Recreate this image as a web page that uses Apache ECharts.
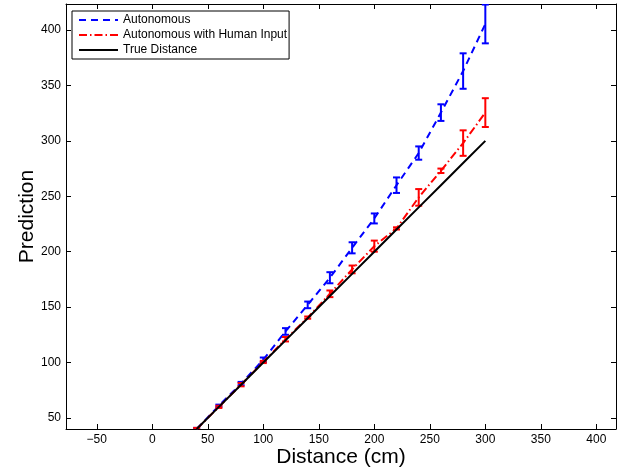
<!DOCTYPE html>
<html>
<head>
<meta charset="utf-8">
<script src="https://cdn.jsdelivr.net/npm/echarts@6/dist/echarts.min.js"></script>
<style>
html,body{margin:0;padding:0;background:#fff;}
#chart{width:625px;height:470px;}
</style>
</head>
<body>
<div id="chart"></div>
<script>
// Data
const distances = [40, 60, 80, 100, 120, 140, 160, 180, 200, 220, 240, 260, 280, 300];
const autoMean  = [40, 61, 81, 102.5, 128, 152, 176.5, 203.5, 230, 260, 289, 325.5, 363, 405.5];
const autoErr   = [1, 1, 1.5, 2, 3, 3, 5, 5, 4.5, 7, 6, 7.5, 16, 17.5];
const humanMean = [40, 60, 80, 100.5, 121, 140.5, 162, 184, 205, 221, 249, 273, 298, 325.5];
const humanErr  = [1, 1, 1.5, 1, 2, 1, 3, 3.5, 5, 1, 7.5, 2, 11.5, 13];
const trueDist  = [40, 60, 80, 100, 120, 140, 160, 180, 200, 220, 240, 260, 280, 300];
const xTicks = [-50, 0, 50, 100, 150, 200, 250, 300, 350, 400];
const yTicks = [50, 100, 150, 200, 250, 300, 350, 400];
const seriesNames = ['Autonomous', 'Autonomous with Human Input', 'True Distance'];

const X_MIN = -77.7, X_MAX = 417.7, Y_MIN = 40, Y_MAX = 423.5;
const FONT = 'Liberation Sans, Arial, Helvetica, sans-serif';

function pairs(xs, ys) { return xs.map((x, i) => [x, ys[i]]); }
function errData(xs, m, e) { return xs.map((x, i) => [x, m[i] - e[i], m[i] + e[i]]); }

function errRender(color) {
  return function (params, api) {
    const x = api.value(0), lo = api.value(1), hi = api.value(2);
    const pLo = api.coord([x, lo]), pHi = api.coord([x, hi]);
    const w = 3.5;
    const style = { stroke: color, lineWidth: 2, fill: null };
    return {
      type: 'group',
      children: [
        { type: 'line', shape: { x1: pLo[0], y1: pLo[1], x2: pHi[0], y2: pHi[1] }, style: style },
        { type: 'line', shape: { x1: pLo[0] - w, y1: pLo[1], x2: pLo[0] + w, y2: pLo[1] }, style: style },
        { type: 'line', shape: { x1: pHi[0] - w, y1: pHi[1], x2: pHi[0] + w, y2: pHi[1] }, style: style }
      ]
    };
  };
}

const axisCommon = {
  axisLine: { show: true, onZero: false, lineStyle: { color: '#000', width: 1 } },
  splitLine: { show: false },
  nameMoveOverlap: false
};

const chart = echarts.init(document.getElementById('chart'), null, { renderer: 'canvas' });
chart.setOption({
  animation: false,
  backgroundColor: '#fff',
  textStyle: { fontFamily: FONT },
  grid: { left: 66, right: 9, top: 4, bottom: 41, containLabel: false, outerBoundsMode: 'none' },
  legend: {
    data: seriesNames,
    orient: 'vertical',
    left: 72, top: 11,
    padding: [2, 2, 2, 6],
    itemWidth: 39, itemHeight: 14, itemGap: 1,
    backgroundColor: '#fff',
    borderColor: '#000', borderWidth: 1, borderRadius: 0,
    itemStyle: { opacity: 0 },
    textStyle: { fontFamily: FONT, fontSize: 12, color: '#000', lineHeight: 14 },
    selectedMode: false
  },
  xAxis: [
    Object.assign({
      type: 'value', min: X_MIN, max: X_MAX, position: 'bottom',
      name: 'Distance (cm)', nameLocation: 'middle', nameGap: 18,
      nameTextStyle: { fontFamily: FONT, fontSize: 21, color: '#000' },
      axisTick: { show: true, inside: true, length: 5, customValues: xTicks, lineStyle: { color: '#000' } },
      axisLabel: { show: true, customValues: xTicks, margin: 5, fontFamily: FONT, fontSize: 12, color: '#000',
        formatter: v => (v < 0 ? '\u2212' + Math.abs(v) : String(v)) }
    }, axisCommon),
    Object.assign({
      type: 'value', min: X_MIN, max: X_MAX, position: 'top',
      axisTick: { show: true, inside: true, length: 5, customValues: xTicks, lineStyle: { color: '#000' } },
      axisLabel: { show: false }
    }, axisCommon)
  ],
  yAxis: [
    Object.assign({
      type: 'value', min: Y_MIN, max: Y_MAX, position: 'left',
      name: 'Prediction', nameLocation: 'middle', nameGap: 28, nameRotate: 90,
      nameTextStyle: { fontFamily: FONT, fontSize: 21, color: '#000' },
      axisTick: { show: true, inside: true, length: 5, customValues: yTicks, lineStyle: { color: '#000' } },
      axisLabel: { show: true, customValues: yTicks, margin: 5, fontFamily: FONT, fontSize: 12, color: '#000' }
    }, axisCommon),
    Object.assign({
      type: 'value', min: Y_MIN, max: Y_MAX, position: 'right',
      axisTick: { show: true, inside: true, length: 5, customValues: yTicks, lineStyle: { color: '#000' } },
      axisLabel: { show: false }
    }, axisCommon)
  ],
  series: [
    {
      name: seriesNames[0], type: 'line', data: pairs(distances, autoMean),
      showSymbol: false, symbol: 'none', clip: true,
      lineStyle: { color: '#0000ff', width: 2, type: [7, 5] },
      itemStyle: { color: '#0000ff' }, z: 2
    },
    {
      name: 'autoErr', type: 'custom', data: errData(distances, autoMean, autoErr),
      renderItem: errRender('#0000ff'), clip: true, z: 2,
      encode: { x: 0, y: [1, 2] }
    },
    {
      name: seriesNames[1], type: 'line', data: pairs(distances, humanMean),
      showSymbol: false, symbol: 'none', clip: true,
      lineStyle: { color: '#ff0000', width: 2, type: [8, 3, 1.5, 3] },
      itemStyle: { color: '#ff0000' }, z: 3
    },
    {
      name: 'humanErr', type: 'custom', data: errData(distances, humanMean, humanErr),
      renderItem: errRender('#ff0000'), clip: true, z: 3,
      encode: { x: 0, y: [1, 2] }
    },
    {
      name: seriesNames[2], type: 'line', data: pairs(distances, trueDist),
      showSymbol: false, symbol: 'none', clip: true,
      lineStyle: { color: '#000', width: 2 },
      itemStyle: { color: '#000' }, z: 4
    }
  ]
});
</script>
</body>
</html>
